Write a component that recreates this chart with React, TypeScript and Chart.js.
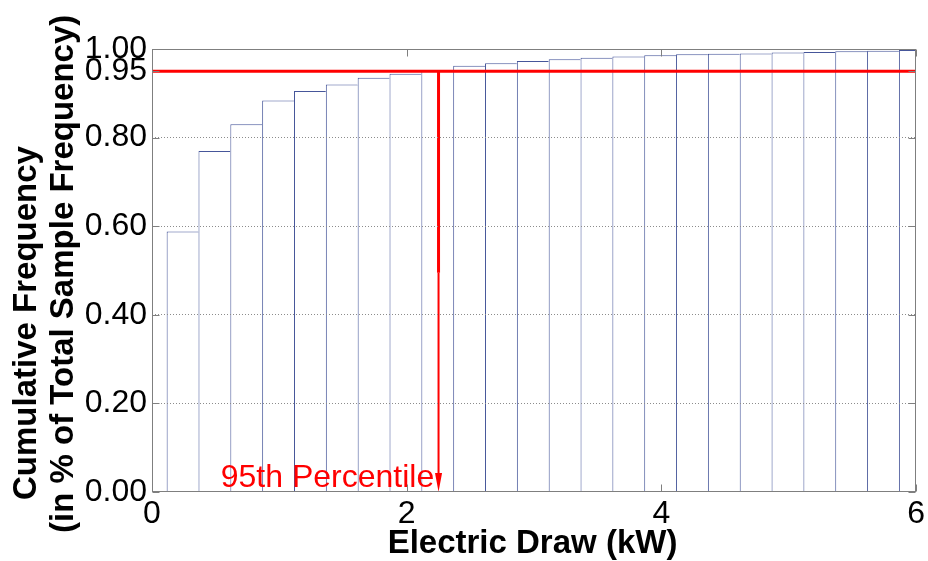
import React, { useEffect, useRef } from "react";
import { Chart, registerables } from "chart.js";

Chart.register(...registerables);

// ---- data ----
const binCenters = [0.24, 0.49, 0.74, 0.99, 1.24, 1.49, 1.74, 1.99, 2.24, 2.49, 2.74, 2.99, 3.24, 3.49, 3.74, 3.99, 4.24, 4.49, 4.74, 4.99, 5.24, 5.49, 5.74, 5.99];
const cumulativeFrequency = [0.588, 0.770, 0.830, 0.884, 0.905, 0.920, 0.935, 0.944, 0.951, 0.962, 0.968, 0.973, 0.977, 0.980, 0.983, 0.986, 0.988, 0.989, 0.990, 0.992, 0.993, 0.995, 0.996, 0.998];
const yTickValues = [0, 0.2, 0.4, 0.6, 0.8, 0.95, 1.0];
const yGridValues = [0.2, 0.4, 0.6, 0.8];
const xTickValues = [0, 2, 4, 6];
const percentileLevel = 0.95;
const percentileDraw = 2.25;
const shaftBreak = 0.495;
const arrowBase = 0.043;
const yTitleLines = ["Cumulative Frequency", "(in % of Total Sample Frequency)"];
const xTitle = "Electric Draw (kW)";
const annotationText = "95th Percentile";
const annotationAt = [0.54, 0.012];

const FONT = '"Liberation Sans", Arial, sans-serif';

const decorPlugin = {
  id: "decor",
  afterDraw(chart: any) {
    const { ctx, chartArea: a, scales } = chart;
    const x = scales.x;
    const y = scales.y;
    ctx.save();
    // annotation text
    ctx.fillStyle = "#ff0000";
    ctx.font = `32px ${FONT}`;
    ctx.textAlign = "left";
    ctx.textBaseline = "alphabetic";
    ctx.fillText(annotationText, x.getPixelForValue(annotationAt[0]), y.getPixelForValue(annotationAt[1]));
    // arrowhead
    const ax = x.getPixelForValue(percentileDraw);
    const ab = y.getPixelForValue(arrowBase);
    const at = y.getPixelForValue(0);
    ctx.beginPath();
    ctx.moveTo(ax - 3.5, ab);
    ctx.lineTo(ax + 3.5, ab);
    ctx.lineTo(ax, at);
    ctx.closePath();
    ctx.fill();
    // plot box
    ctx.strokeStyle = "#7f7f7f";
    ctx.lineWidth = 1;
    const L = Math.round(a.left) + 0.5;
    const T = Math.round(a.top) + 0.5;
    const R = Math.round(a.right) - 0.5;
    const B = Math.round(a.bottom) - 0.5;
    ctx.strokeRect(L, T, R - L, B - T);
    // inward ticks
    ctx.beginPath();
    yTickValues.forEach((v) => {
      const py = Math.round(y.getPixelForValue(v)) + 0.5;
      ctx.moveTo(L, py);
      ctx.lineTo(L + 7, py);
      ctx.moveTo(R, py);
      ctx.lineTo(R - 7, py);
    });
    xTickValues.forEach((v) => {
      const px = Math.round(x.getPixelForValue(v)) + 0.5;
      ctx.moveTo(px, B);
      ctx.lineTo(px, B - 7);
      ctx.moveTo(px, T);
      ctx.lineTo(px, T + 7);
    });
    ctx.stroke();
    // x title
    ctx.fillStyle = "#000000";
    ctx.font = `bold 33px ${FONT}`;
    ctx.textAlign = "center";
    ctx.fillText(xTitle, 532.5, 553);
    // y title (two lines, rotated)
    ctx.textAlign = "left";
    const starts = [500, 533];
    const baselines = [36, 73];
    yTitleLines.forEach((line, i) => {
      ctx.save();
      ctx.translate(baselines[i], starts[i]);
      ctx.rotate(-Math.PI / 2);
      ctx.fillText(line, 0, 0);
      ctx.restore();
    });
    ctx.restore();
  },
};

export default function App() {
  const ref = useRef<HTMLCanvasElement | null>(null);
  useEffect(() => {
    if (!ref.current) return;
    const chart = new Chart(ref.current, {
      type: "bar",
      data: {
        datasets: [
          {
            type: "line",
            data: [
              { x: 0, y: percentileLevel },
              { x: 6, y: percentileLevel },
            ],
            borderColor: "#ff0000",
            borderWidth: 3,
            pointRadius: 0,
            order: 0,
          },
          {
            type: "line",
            data: [
              { x: percentileDraw, y: percentileLevel },
              { x: percentileDraw, y: shaftBreak },
            ],
            borderColor: "#ff0000",
            borderWidth: 3,
            pointRadius: 0,
            order: 0,
          },
          {
            type: "line",
            data: [
              { x: percentileDraw, y: shaftBreak },
              { x: percentileDraw, y: arrowBase },
            ],
            borderColor: "#ff0000",
            borderWidth: 2,
            pointRadius: 0,
            order: 0,
          },
          {
            type: "bar",
            data: binCenters.map((x, i) => ({ x, y: cumulativeFrequency[i] })),
            backgroundColor: "#ffffff",
            borderColor: "#46569a",
            borderWidth: { left: 1, top: 1, right: 0, bottom: 0 },
            borderSkipped: false,
            barPercentage: 1,
            categoryPercentage: 1,
            inflateAmount: 0,
            order: 1,
          },
        ] as any,
      },
      options: {
        animation: false,
        responsive: false,
        devicePixelRatio: 1,
        layout: { padding: { top: 49, right: 11, left: 0, bottom: 0 } },
        plugins: { legend: { display: false }, tooltip: { enabled: false } },
        scales: {
          x: {
            type: "linear",
            min: 0,
            max: 6,
            offset: false,
            afterBuildTicks: (s: any) => {
              s.ticks = xTickValues.map((v) => ({ value: v }));
            },
            afterFit: (s: any) => {
              s.height = 69;
            },
            grid: { display: false, drawTicks: false, offset: false },
            border: { display: false },
            ticks: {
              autoSkip: false,
              maxRotation: 0,
              padding: 3,
              color: "#000000",
              font: { family: FONT, size: 32 },
              callback: (v: any) => String(v),
            },
          },
          y: {
            type: "linear",
            min: 0,
            max: 1,
            afterBuildTicks: (s: any) => {
              s.ticks = yTickValues.map((v) => ({ value: v }));
            },
            afterFit: (s: any) => {
              s.width = 152;
            },
            grid: {
              z: 1,
              drawTicks: false,
              lineWidth: 1,
              color: (c: any) =>
                c.tick && yGridValues.includes(c.tick.value) ? "#8c8c8c" : "rgba(0,0,0,0)",
            },
            border: { display: false, dash: [1, 2] },
            ticks: {
              autoSkip: false,
              padding: 5,
              color: "#000000",
              font: { family: FONT, size: 32 },
              callback: (v: any) => Number(v).toFixed(2),
            },
          },
        },
      },
      plugins: [decorPlugin],
    } as any);
    return () => chart.destroy();
  }, []);
  return (
    <canvas
      ref={ref}
      width={928}
      height={561}
      style={{ position: "absolute", left: 0, top: 0, width: 928, height: 561 }}
    />
  );
}
